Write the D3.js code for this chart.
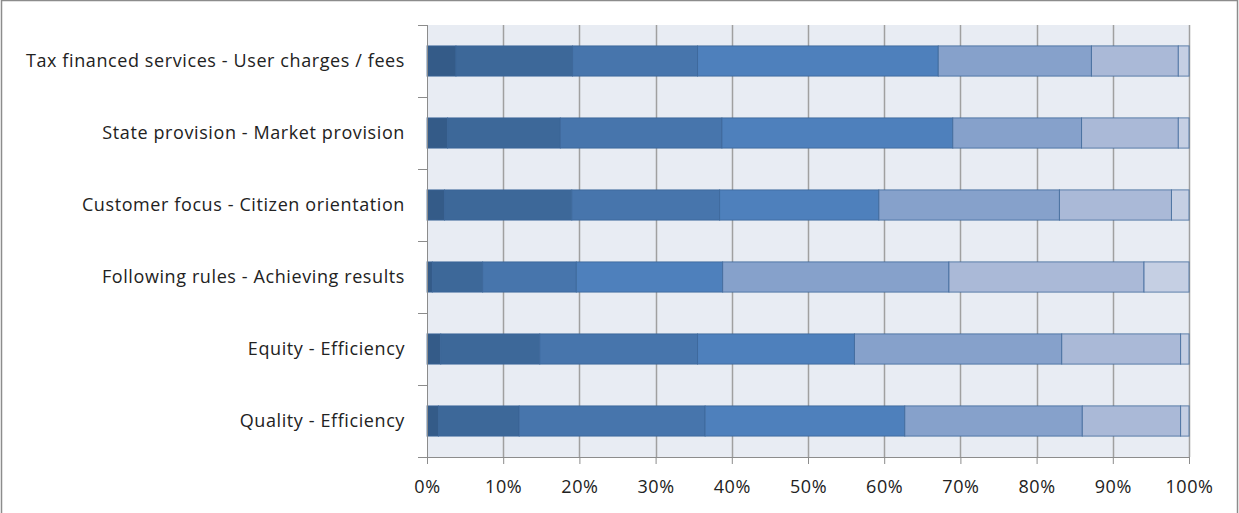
<!DOCTYPE html>
<html lang="en">
<head>
<meta charset="UTF-8">
<title>Stacked 100% bar chart</title>
<script src="https://d3js.org/d3.v7.min.js"></script>
<style>
    body { margin: 0; background: #fff; }
    svg text { font-family: "Open Sans", "Liberation Sans", sans-serif; fill: #222; }
</style>
</head>
<body>
<svg id="chart" width="1239" height="513"></svg>
<script>
// categories, top to bottom
const categories = [
    "Tax financed services - User charges / fees",
    "State provision - Market provision",
    "Customer focus - Citizen orientation",
    "Following rules - Achieving results",
    "Equity - Efficiency",
    "Quality - Efficiency"
];

// series values (percent of answers per category), one array per series
const s1 = [3.8, 2.7, 2.3, 0.7, 1.8, 1.5];
const s2 = [15.3, 14.8, 16.7, 6.6, 13.0, 10.6];
const s3 = [16.4, 21.2, 19.4, 12.3, 20.7, 24.4];
const s4 = [31.6, 30.3, 20.9, 19.2, 20.6, 26.2];
const s5 = [20.1, 16.9, 23.7, 29.7, 27.2, 23.3];
const s6 = [11.4, 12.7, 14.7, 25.6, 15.6, 12.9];
const s7 = [1.4, 1.4, 2.3, 5.9, 1.1, 1.1];

const tickValues = [0, 0.1, 0.2, 0.3, 0.4, 0.5, 0.6, 0.7, 0.8, 0.9, 1];

const colors = ["#345b88", "#3d6899", "#4775ac", "#4e80bc", "#86a1cb", "#aab9d7", "#c5cfe3"];

const series = [s1, s2, s3, s4, s5, s6, s7];
const keys = series.map((d, i) => "s" + (i + 1));

// build table rows for d3.stack
const rows = categories.map((c, i) => {
    const row = { cat: c };
    const total = d3.sum(series, s => s[i]);
    series.forEach((s, k) => { row[keys[k]] = s[i] / total; });
    return row;
});

const margin = { top: 25, right: 50, bottom: 56, left: 427 };
const W = 1239, H = 513;
const width = W - margin.left - margin.right;
const height = H - margin.top - margin.bottom;

const svg = d3.select("#chart");

// outer chart border
svg.append("rect")
    .attr("x", 1.5).attr("y", 0.5)
    .attr("width", 1236).attr("height", 530)
    .attr("fill", "none")
    .attr("stroke", "#8c8c8c")
    .attr("stroke-width", 1.5);

const g = svg.append("g").attr("transform", `translate(${margin.left},${margin.top})`);

const x = d3.scaleLinear().domain([0, 1]).range([0, width]);
const y = d3.scaleBand().domain(categories).range([0, height]).paddingInner(0.58).paddingOuter(0.29);

// plot background
g.append("rect")
    .attr("width", width).attr("height", height)
    .attr("fill", "#e8ecf3");

// vertical gridlines
g.selectAll(".grid")
    .data(tickValues.slice(1))
    .enter().append("line")
    .attr("x1", d => Math.round(x(d)) + 0.5).attr("x2", d => Math.round(x(d)) + 0.5)
    .attr("y1", 0).attr("y2", height)
    .attr("stroke", "#a0a0a0")
    .attr("stroke-width", 1.5);

// stacked bars
const stacked = d3.stack().keys(keys)(rows);

g.selectAll(".layer")
    .data(stacked)
    .enter().append("g")
    .attr("fill", (d, i) => colors[i])
    .selectAll("rect")
    .data(d => d)
    .enter().append("rect")
    .attr("x", d => x(d[0]))
    .attr("y", d => y(d.data.cat))
    .attr("width", d => x(d[1]) - x(d[0]))
    .attr("height", y.bandwidth())
    .attr("stroke", "#3a6497")
    .attr("stroke-opacity", 0.75)
    .attr("stroke-width", 1);

// y axis with ticks between categories
const bandStep = height / categories.length;
const yAxisG = g.append("g");
yAxisG.append("line")
    .attr("x1", 0.5).attr("x2", 0.5).attr("y1", 0).attr("y2", height)
    .attr("stroke", "#8c8c8c");
yAxisG.selectAll(".ytick")
    .data(d3.range(categories.length + 1))
    .enter().append("line")
    .attr("x1", -9).attr("x2", 0)
    .attr("y1", d => Math.round(d * bandStep) + 0.5)
    .attr("y2", d => Math.round(d * bandStep) + 0.5)
    .attr("stroke", "#8c8c8c");
yAxisG.selectAll(".ylab")
    .data(categories)
    .enter().append("text")
    .attr("x", -22)
    .attr("y", d => y(d) + y.bandwidth() / 2)
    .attr("dy", "0.35em")
    .attr("text-anchor", "end")
    .style("font-size", "18px")
    .style("letter-spacing", "0.6px")
    .text(d => d);

// x axis
const xAxis = d3.axisBottom(x)
    .tickValues(tickValues)
    .tickFormat(d3.format(".0%"))
    .tickSizeInner(7)
    .tickSizeOuter(0)
    .tickPadding(16);

const xAxisG = g.append("g")
    .attr("transform", `translate(0,${height})`)
    .call(xAxis);
xAxisG.select(".domain").attr("stroke", "#8c8c8c");
xAxisG.selectAll(".tick line").attr("stroke", "#8c8c8c");
xAxisG.selectAll(".tick text")
    .style("font-size", "18px")
    .style("letter-spacing", "0.6px")
    .style("font-family", "'Open Sans', 'Liberation Sans', sans-serif")
    .attr("fill", "#222");
</script>
</body>
</html>
